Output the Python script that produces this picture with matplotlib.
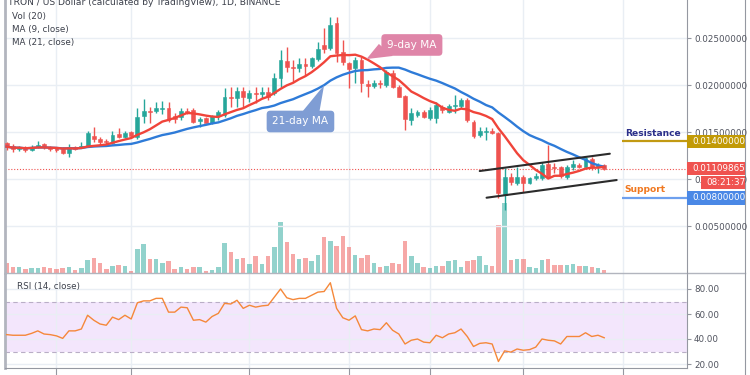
import numpy as np
import pandas as pd
import matplotlib
matplotlib.use("Agg")
import matplotlib.pyplot as plt
from matplotlib.patches import Rectangle, Polygon
import matplotlib.transforms as mtransforms

plt.rcParams['font.family'] = ['DejaVu Sans']

# ---------------- data ----------------
opens = [0.01380,0.01351,0.01316,0.01344,0.01309,0.01344,0.01369,0.01337,0.01330,0.01319,
 0.01274,0.01337,0.01337,0.01351,0.01462,0.01422,0.01401,0.01386,0.01479,0.01444,
 0.01503,0.01444,0.01674,0.01727,0.01727,0.01748,0.01752,0.01670,0.01656,0.01727,
 0.01734,0.01621,0.01646,0.01593,0.01670,0.01681,0.01869,0.01859,0.01939,0.01859,
 0.01918,0.01904,0.01930,0.01912,0.02072,0.02259,0.02195,0.02178,0.02220,0.02202,
 0.02273,0.02426,0.02391,0.02656,0.02354,0.02231,0.02178,0.02266,0.02011,0.01990,
 0.02025,0.02000,0.02124,0.01982,0.01883,0.01628,0.01681,0.01716,0.01646,0.01646,
 0.01763,0.01716,0.01776,0.01780,0.01841,0.01610,0.01468,0.01504,0.01514,0.01486,
 0.00830,0.01025,0.00961,0.01025,0.00961,0.01007,0.01007,0.01160,0.01131,0.01124,
 0.01018,0.01131,0.01149,0.01131,0.01210,0.01124,0.01149]
highs = [0.01397,0.01372,0.01351,0.01355,0.01360,0.01404,0.01386,0.01351,0.01337,0.01337,
 0.01372,0.01351,0.01390,0.01511,0.01556,0.01451,0.01422,0.01514,0.01539,0.01511,
 0.01514,0.01752,0.01848,0.01769,0.01822,0.01830,0.01822,0.01699,0.01752,0.01752,
 0.01752,0.01663,0.01663,0.01681,0.01734,0.01965,0.01982,0.01982,0.01982,0.01947,
 0.01982,0.01982,0.01982,0.02124,0.02372,0.02408,0.02266,0.02284,0.02284,0.02301,
 0.02461,0.02606,0.02727,0.02727,0.02479,0.02248,0.02301,0.02301,0.02053,0.02053,
 0.02053,0.02160,0.02160,0.02000,0.01894,0.01755,0.01734,0.01734,0.01769,0.01819,
 0.01787,0.01798,0.01894,0.01862,0.01859,0.01628,0.01557,0.01557,0.01539,0.01503,
 0.01117,0.01061,0.01131,0.01043,0.01025,0.01061,0.01184,0.01362,0.01167,0.01138,
 0.01149,0.01202,0.01167,0.01237,0.01237,0.01173,0.01160]
lows = [0.01309,0.01290,0.01301,0.01284,0.01301,0.01327,0.01316,0.01298,0.01290,0.01266,
 0.01232,0.01309,0.01327,0.01337,0.01397,0.01362,0.01351,0.01372,0.01434,0.01434,
 0.01451,0.01430,0.01593,0.01593,0.01699,0.01692,0.01610,0.01600,0.01628,0.01692,
 0.01593,0.01551,0.01593,0.01585,0.01628,0.01663,0.01769,0.01769,0.01769,0.01822,
 0.01805,0.01859,0.01841,0.01894,0.01982,0.02142,0.02036,0.02142,0.02107,0.02178,
 0.02259,0.02337,0.02372,0.02248,0.02213,0.01965,0.02018,0.01929,0.01876,0.01968,
 0.01968,0.01982,0.01968,0.01872,0.01521,0.01575,0.01660,0.01646,0.01628,0.01600,
 0.01702,0.01702,0.01699,0.01755,0.01610,0.01434,0.01451,0.01415,0.01479,0.00798,
 0.00670,0.00936,0.00936,0.00865,0.00947,0.00989,0.00989,0.01018,0.01061,0.01007,
 0.01000,0.01096,0.01117,0.01114,0.01096,0.01061,0.01096]
closes = [0.01344,0.01322,0.01333,0.01309,0.01344,0.01362,0.01337,0.01316,0.01309,0.01281,
 0.01344,0.01322,0.01355,0.01486,0.01422,0.01394,0.01390,0.01468,0.01451,0.01493,
 0.01462,0.01663,0.01727,0.01716,0.01759,0.01759,0.01628,0.01643,0.01727,0.01707,
 0.01610,0.01638,0.01600,0.01670,0.01716,0.01876,0.01859,0.01939,0.01869,0.01912,
 0.01904,0.01930,0.01876,0.02072,0.02266,0.02195,0.02181,0.02224,0.02202,0.02284,
 0.02380,0.02380,0.02638,0.02337,0.02248,0.02167,0.02266,0.02018,0.01990,0.02025,
 0.02008,0.02142,0.01982,0.01876,0.01638,0.01699,0.01716,0.01663,0.01734,0.01787,
 0.01734,0.01776,0.01787,0.01841,0.01628,0.01458,0.01514,0.01514,0.01486,0.00848,
 0.01025,0.00971,0.01025,0.00961,0.01007,0.01032,0.01149,0.01025,0.01114,0.01032,
 0.01131,0.01160,0.01131,0.01220,0.01124,0.01149,0.01109865]
volume_m = [93,60,60,33,43,43,53,47,33,47, 60,27,43,127,143,100,33,67,77,67,
 20,233,287,137,137,100,113,33,60,33, 53,53,20,27,53,293,210,133,143,87,
 167,87,167,255,510,310,185,140,145,115, 175,358,318,265,365,258,175,148,175,92,
 52,65,92,85,315,165,92,58,48,70, 70,112,127,57,117,123,167,73,67,473,
 700,127,133,133,60,43,127,133,73,77, 77,83,67,67,60,50,23]
rsi = [43.5,43,43,43,44.5,46.5,44,43.5,42.5,40.5, 46.5,46.5,48,59,55,52,51,57.5,55.5,59,
 56,69,70.5,70.5,72.5,72.5,61.5,61.5,65.5,65, 55,55.5,53.5,58,60.5,68.5,68,71,64.5,67,
 65.5,66.5,67,73.5,80,73,71.5,72.5,72.5,75, 77.5,78,85,64.5,57,55,58.5,47.5,46.5,48,
 47.5,53,47,44,36,39,40,37.5,37,43, 41,44,45,48,42,34,36.5,37,36,22,
 30.5,29.5,32,31,31.5,33.5,40,39,38.5,36, 42,42,42,45,42,43,41]

price_ticks = [0.005, 0.010, 0.015, 0.020, 0.025]
rsi_ticks = [20, 40, 60, 80]
time_grid = [8, 20, 39, 55, 68, 83, 99]
resistance = 0.014
support = 0.008
level_start = 98.8
channel_upper = [(76.0, 0.01085), (96.9, 0.01269)]
channel_lower = [(77.1, 0.00801), (98.0, 0.00989)]
countdown = "08:21:37"
ma9_tip_index = 57.8
ma21_tip_index = 51.0
ma9_box = (65.1, 0.02426)
ma21_box = (47.2, 0.01612)

# ---------------- derived ----------------
idx = np.arange(len(closes))
o = np.array(opens); c = np.array(closes); h = np.array(highs); l = np.array(lows)
up = c >= o
ma9 = pd.Series(c).rolling(9, min_periods=1).mean().values
ma21 = pd.Series(c).rolling(21, min_periods=1).mean().values
last_price = closes[-1]

GREEN = '#26a69a'; RED = '#ef5350'
cols = np.where(up, GREEN, RED)

W, H = 750, 375
fig = plt.figure(figsize=(7.5, 3.75), dpi=100)
fig.patch.set_facecolor('white')

def rect(x0, y0, x1, y1):
    return [x0 / W, 1 - y1 / H, (x1 - x0) / W, (y1 - y0) / H]

main_r = rect(5, 0, 687, 272.5)
rsi_r = rect(5, 273.5, 687, 368)

XMIN, XMAX = -0.27, 109.3
PMAX = 0.029043
PMIN = 0.029043 - 272.5 / 9400

axv = fig.add_axes(main_r, zorder=1)
ax = fig.add_axes(main_r, zorder=2)
ax.patch.set_alpha(0)

GRID = '#e9eef4'
# volume
axv.set_xlim(XMIN, XMAX)
axv.set_ylim(0, 2725)
axv.bar(idx, volume_m, width=0.72, color=cols, alpha=0.5, linewidth=0)
axv.set_xticks(time_grid)
axv.set_yticks([])
axv.tick_params(length=0, labelbottom=False)
axv.grid(axis='x', color=GRID, lw=1)
axv.set_axisbelow(True)
for s in axv.spines.values():
    s.set_visible(False)

# price
ax.set_xlim(XMIN, XMAX)
ax.set_ylim(PMIN, PMAX)
ax.set_yticks(price_ticks)
ax.yaxis.tick_right()
ax.yaxis.set_major_formatter(matplotlib.ticker.FormatStrFormatter('%.8f'))
ax.tick_params(axis='y', length=3, width=0.8, color='#9598a1', labelsize=6.3,
               labelcolor='#50535e', pad=2)
ax.set_xticks([])
ax.grid(axis='y', color=GRID, lw=1, zorder=0)
ax.set_axisbelow(True)
for k in ['top', 'bottom']:
    ax.spines[k].set_visible(False)
ax.spines['left'].set_color('#b2b5be'); ax.spines['left'].set_linewidth(2)
ax.spines['right'].set_color('#9598a1'); ax.spines['right'].set_linewidth(0.8)

# candles
ax.vlines(idx, l, h, colors=cols, lw=1, zorder=3)
ax.bar(idx, np.abs(c - o), bottom=np.minimum(o, c), width=0.62, color=cols,
       edgecolor=cols, linewidth=0.4, zorder=4)

# MAs
ax.plot(idx, ma21, color='#2e7bd8', lw=1.7, zorder=5)
ax.plot(idx, ma9, color='#f0443a', lw=1.7, zorder=6)

# current price dotted
ax.axhline(last_price, color=RED, lw=0.8, ls=(0, (1, 1.6)), zorder=2)

# channel
for seg in (channel_upper, channel_lower):
    ax.plot([seg[0][0], seg[1][0]], [seg[0][1], seg[1][1]], color='#2b2b2b',
            lw=1.5, solid_capstyle='round', zorder=7)

# levels
ax.hlines(resistance, level_start, XMAX, color='#c29a12', lw=1.6, zorder=7)
ax.hlines(support, level_start, XMAX, color='#6ea0ee', lw=1.6, zorder=7)
ax.annotate('Resistance', xy=(level_start + 0.5, resistance), xytext=(0, 2.5),
            textcoords='offset points', ha='left', va='bottom', fontsize=6.6,
            fontweight='bold', color='#2b2f8a', zorder=8)
ax.annotate('Support', xy=(level_start + 0.5, support), xytext=(0, 2.5),
            textcoords='offset points', ha='left', va='bottom', fontsize=6.6,
            fontweight='bold', color='#f07820', zorder=8)

# price boxes on the right axis
pp = (PMAX - PMIN) / 272.5  # price per pixel
bt = mtransforms.blended_transform_factory(ax.transAxes, ax.transData)
axw = 682.0
def price_box(price, color, text, x0px=0, x1px=58, dy=0):
    y = price + dy * pp
    r = Rectangle((1 + x0px / axw, y - 6.8 * pp), (x1px - x0px) / axw, 13.6 * pp,
                  transform=bt, facecolor=color, edgecolor='none', clip_on=False,
                  zorder=20)
    ax.add_patch(r)
    ax.text(1 + (x0px + 5) / axw, y, text, transform=bt, color='white',
            fontsize=6.3, va='center', ha='left', clip_on=False, zorder=21)

price_box(resistance, '#c29a06', '%.8f' % resistance)
price_box(last_price, '#ef5350', '%.8f' % last_price)
price_box(last_price, '#ef5350', countdown, x0px=14, dy=-13.8)
price_box(support, '#4a88e6', '%.8f' % support)

# callouts
def callout(box, tip_idx, ma, text, fc, base_offsets):
    ax.text(box[0], box[1], text, ha='center', va='center', color='white',
            fontsize=7.6, zorder=12,
            bbox=dict(boxstyle='round,pad=0.55,rounding_size=0.35', fc=fc, ec='none'))
    tip_val = np.interp(tip_idx, idx, ma)
    cx, cy = ax.transData.transform(box)
    tx, ty = ax.transData.transform((tip_idx, tip_val))
    pts = [(cx + dx, cy - dy) for dx, dy in base_offsets] + [(tx, ty)]
    pts = ax.transData.inverted().transform(pts)
    ax.add_patch(Polygon(pts, closed=True, fc=fc, ec='none', zorder=11))

callout(ma9_box, ma9_tip_index, ma9, '9-day MA', '#df85a8', [(-33, -1), (-19, 11)])
callout(ma21_box, ma21_tip_index, ma21, '21-day MA', '#7f9dd4', [(2, -10), (19, -10)])

# legends
TXT = '#3c404b'
fig.text(8 / W, 1 - 2.5 / H, 'TRON / US Dollar (calculated by TradingView), 1D, BINANCE',
         fontsize=6.6, color=TXT, va='center', ha='left')
for yy, t in [(16, 'Vol (20)'), (29.5, 'MA (9, close)'), (43, 'MA (21, close)')]:
    fig.text(12 / W, 1 - yy / H, t, fontsize=6.3, color=TXT, va='center', ha='left')

# ---------------- RSI ----------------
ar = fig.add_axes(rsi_r)
ar.set_xlim(XMIN, XMAX)
ar.set_ylim(16.8, 92.4)
ar.axhspan(30, 70, color='#f3e6fc', zorder=0, lw=0)
ar.axhline(70, color='#b9aec6', lw=0.8, ls=(0, (4, 3)), zorder=1)
ar.axhline(30, color='#b9aec6', lw=0.8, ls=(0, (4, 3)), zorder=1)
ar.plot(idx, rsi, color='#f5883a', lw=1.0, zorder=3)
ar.set_yticks(rsi_ticks)
ar.yaxis.tick_right()
ar.yaxis.set_major_formatter(matplotlib.ticker.FormatStrFormatter('%.2f'))
ar.tick_params(axis='y', length=3, width=0.8, color='#9598a1', labelsize=6.3,
               labelcolor='#50535e', pad=2)
ar.set_xticks(time_grid)
ar.tick_params(axis='x', length=6, width=0.8, color='#9598a1', labelbottom=False,
               direction='out')
ar.grid(color=GRID, lw=1, zorder=0)
ar.set_axisbelow(True)
ar.spines['top'].set_visible(False)
ar.spines['left'].set_color('#b2b5be'); ar.spines['left'].set_linewidth(2)
ar.spines['right'].set_color('#9598a1'); ar.spines['right'].set_linewidth(0.8)
ar.spines['bottom'].set_color('#9598a1'); ar.spines['bottom'].set_linewidth(0.8)
ar.text(12 / 682, 1 - 13 / 94.5, 'RSI (14, close)', transform=ar.transAxes,
        fontsize=6.3, color=TXT, va='center', ha='left')

# separator and right border
fig.add_artist(plt.Line2D([5 / W, 745 / W], [1 - 273 / H, 1 - 273 / H],
                          color='#b2b5be', lw=1))
fig.add_artist(plt.Line2D([745 / W, 745 / W], [0, 1], color='#9598a1', lw=0.8))

fig.savefig('out.png', dpi=100, facecolor='white')
